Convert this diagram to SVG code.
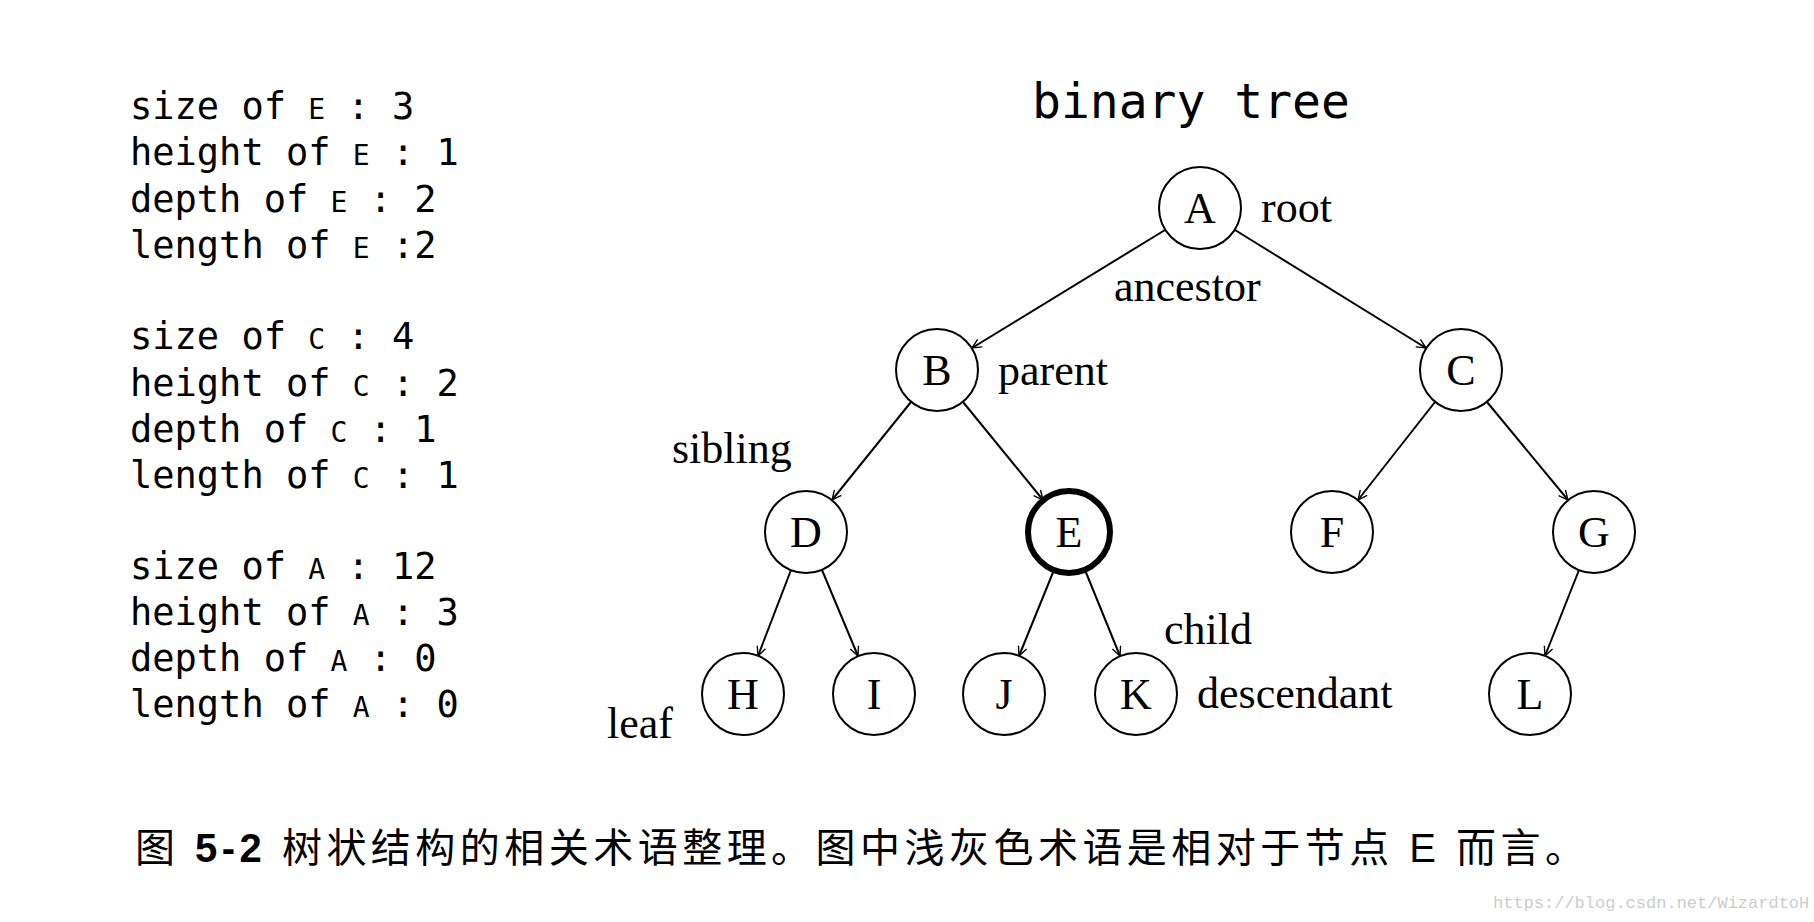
<svg xmlns="http://www.w3.org/2000/svg" width="1814" height="922" viewBox="0 0 1814 922">
<style>
.n circle{fill:#fff;stroke:#000;stroke-width:2}
.n text,.lbl{font-family:"Liberation Serif",serif;font-size:44px;fill:#000}
.n text{text-anchor:middle}
.mono{font-family:"DejaVu Sans Mono","Liberation Mono",monospace;font-size:37px;fill:#000}
.sm{font-size:28px}
#edges line{stroke:#000;stroke-width:2;marker-end:url(#ah)}
</style>
<defs><marker id="ah" viewBox="0 0 20 20" refX="19" refY="10" markerWidth="11" markerHeight="11" markerUnits="userSpaceOnUse" orient="auto"><path d="M2,2 L19,10 L2,18" fill="none" stroke="#000" stroke-width="2.5"/></marker></defs>
<rect width="1814" height="922" fill="#fff"/>
<g class="mono">
<text x="130" y="119">size of <tspan class="sm">E</tspan> : 3</text>
<text x="130" y="165">height of <tspan class="sm">E</tspan> : 1</text>
<text x="130" y="212">depth of <tspan class="sm">E</tspan> : 2</text>
<text x="130" y="258">length of <tspan class="sm">E</tspan> :2</text>
<text x="130" y="349">size of <tspan class="sm">C</tspan> : 4</text>
<text x="130" y="396">height of <tspan class="sm">C</tspan> : 2</text>
<text x="130" y="442">depth of <tspan class="sm">C</tspan> : 1</text>
<text x="130" y="488">length of <tspan class="sm">C</tspan> : 1</text>
<text x="130" y="579">size of <tspan class="sm">A</tspan> : 12</text>
<text x="130" y="625">height of <tspan class="sm">A</tspan> : 3</text>
<text x="130" y="671">depth of <tspan class="sm">A</tspan> : 0</text>
<text x="130" y="717">length of <tspan class="sm">A</tspan> : 0</text>
</g>
<text x="1032" y="118" font-family="DejaVu Sans Mono,monospace" font-size="48">binary tree</text>
<g id="edges">
<line x1="1165" y1="230" x2="972" y2="348"/>
<line x1="1235" y1="230" x2="1426" y2="348"/>
<line x1="911" y1="402" x2="832" y2="500"/>
<line x1="963" y1="402" x2="1043" y2="500"/>
<line x1="1435" y1="402" x2="1358" y2="500"/>
<line x1="1487" y1="402" x2="1568" y2="500"/>
<line x1="791" y1="570" x2="758" y2="656"/>
<line x1="822" y1="570" x2="858" y2="656"/>
<line x1="1054" y1="570" x2="1019" y2="656"/>
<line x1="1085" y1="570" x2="1120" y2="656"/>
<line x1="1579" y1="570" x2="1545" y2="656"/>
</g>
<g id="A" class="n"><circle cx="1200" cy="208" r="41"/><text x="1200" y="223">A</text></g>
<g id="B" class="n"><circle cx="937" cy="370" r="41"/><text x="937" y="385">B</text></g>
<g id="C" class="n"><circle cx="1461" cy="370" r="41"/><text x="1461" y="385">C</text></g>
<g id="D" class="n"><circle cx="806" cy="532" r="41"/><text x="806" y="547">D</text></g>
<g id="E" class="n"><circle cx="1069" cy="532" r="41" style="stroke-width:6"/><text x="1069" y="547">E</text></g>
<g id="F" class="n"><circle cx="1332" cy="532" r="41"/><text x="1332" y="547">F</text></g>
<g id="G" class="n"><circle cx="1594" cy="532" r="41"/><text x="1594" y="547">G</text></g>
<g id="H" class="n"><circle cx="743" cy="694" r="41"/><text x="743" y="709">H</text></g>
<g id="I" class="n"><circle cx="874" cy="694" r="41"/><text x="874" y="709">I</text></g>
<g id="J" class="n"><circle cx="1004" cy="694" r="41"/><text x="1004" y="709">J</text></g>
<g id="K" class="n"><circle cx="1136" cy="694" r="41"/><text x="1136" y="709">K</text></g>
<g id="L" class="n"><circle cx="1530" cy="694" r="41"/><text x="1530" y="709">L</text></g>
<g class="lbl">
<text class="lbl" x="1261" y="222">root</text>
<text class="lbl" x="1114" y="301">ancestor</text>
<text class="lbl" x="998" y="385">parent</text>
<text class="lbl" x="672" y="463">sibling</text>
<text class="lbl" x="1164" y="644">child</text>
<text class="lbl" x="1197" y="708">descendant</text>
<text class="lbl" x="607" y="738">leaf</text>
</g>
<text x="135" y="862" font-family="Liberation Sans,Noto Sans CJK SC,sans-serif" font-size="40" textLength="1450">图 <tspan font-weight="bold">5-2</tspan> 树状结构的相关术语整理。图中浅灰色术语是相对于节点 E 而言。</text>
<text x="1493" y="908" font-family="Liberation Mono,monospace" font-size="17" fill="#ccc">https://blog.csdn.net/WizardtoH</text>
</svg>
